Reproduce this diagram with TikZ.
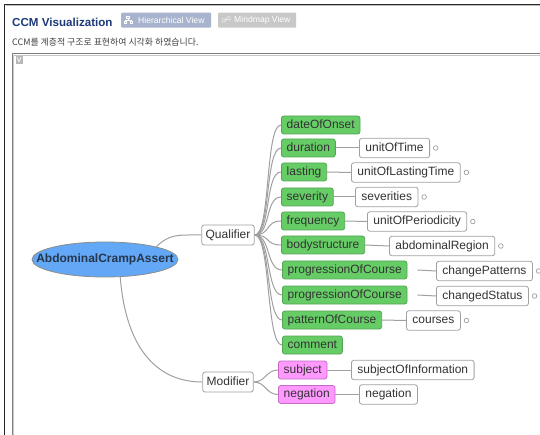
\documentclass[tikz,border=0pt]{standalone}
\usepackage{fontspec}
\setmainfont{Liberation Sans}
\newfontfamily\krfont{Noto Sans CJK KR}
\usetikzlibrary{shapes.geometric,calc}
\definecolor{navy}{HTML}{1E3A78}
\definecolor{grnf}{HTML}{66CC66}
\definecolor{grnb}{HTML}{55A555}
\definecolor{pnkf}{HTML}{FF99FF}
\definecolor{pnkb}{HTML}{C46BC4}
\definecolor{blf}{HTML}{62A8F6}
\definecolor{txt}{HTML}{333333}
\definecolor{etxt}{HTML}{26364A}
\definecolor{wire}{HTML}{A0A0A0}
\definecolor{btnA}{HTML}{A8B4CE}
\definecolor{btnB}{HTML}{C8C8C8}
\begin{document}
\begin{tikzpicture}[x=1pt,y=-1pt,
  base/.style={rounded corners=2.5pt, line width=0.8pt, minimum height=18pt,
    inner ysep=0pt, anchor=west, text height=9pt, text depth=2.6pt,
    font=\fontsize{12}{12}\selectfont, text=txt},
  gbox/.style={base, draw=grnb, fill=grnf, inner xsep=5.3pt},
  pbox/.style={base, draw=pnkb, fill=pnkf, inner xsep=5.3pt},
  wbox/.style={base, draw=wire, fill=white, inner xsep=6pt, minimum height=19.5pt},
  hbox/.style={wbox, anchor=center, inner xsep=4pt, minimum height=20pt},
  knob/.style={circle, draw=wire, fill=white, line width=0.7pt, inner sep=0pt, minimum size=4.6pt, anchor=west},
  wireline/.style={draw=wire, line width=1pt},
  btn/.style={rounded corners=1pt, anchor=north west, minimum height=15pt, inner sep=0pt, text=white, font=\fontsize{8.4}{8.4}\selectfont}
]
\useasboundingbox (0,0) rectangle (540,435);
\fill[white] (0,0) rectangle (540,435);
% outer frame
\draw[line width=1.3pt, color=black!85] (4.5,435) -- (4.5,4.5) -- (540,4.5);
\draw[line width=0.8pt, color=black!25] (5.5,5.7) -- (540,5.7);
% header
\node[anchor=west, font=\fontsize{11.6}{12}\bfseries\selectfont, text=navy, inner sep=0pt] (title) at (12,22) {CCM Visualization};
\node[btn, fill=btnA, minimum width=90pt] (b1) at (121,12.5) {};
\node[anchor=west, inner sep=0pt, text=white, font=\fontsize{8.6}{8.6}\selectfont] (b1t) at (138,20) {Hierarchical View};
\node[btn, fill=btnB, minimum width=78pt] (b2) at (218,12.5) {};
\node[anchor=west, inner sep=0pt, text=white, font=\fontsize{8.6}{8.6}\selectfont] (b2t) at (234,20) {Mindmap View};
% tiny icons
\draw[white, line width=0.5pt] (126.5,16.5) rectangle (129.5,18.5) (128,18.5) -- (128,20) (125,20) -- (131,20) (125,20) -- (125,21) (131,20) -- (131,21) (123.8,21) rectangle (126.2,23) (129.8,21) rectangle (132.2,23);
\draw[white!90!btnB, line width=0.5pt] (222,19) rectangle (225,22) (225,20.5) -- (227,19) (227,17) rectangle (230,20);
\node[anchor=west, inner sep=0pt, text=black!75, font=\krfont\fontsize{8.9}{8.9}\selectfont] (sub) at (12,42) {CCM를 계층적 구조로 표현하여 시각화 하였습니다.};
% inner panel
\draw[line width=1.2pt, color=black!50] (12.5,435) -- (12.5,53.8) -- (540,53.8);
\draw[line width=0.8pt, color=black!22] (13.8,435) -- (13.8,55.3) -- (540,55.3);
\fill[black!28] (15.5,56.5) rectangle (23,64);
\node[inner sep=0pt, text=white, font=\fontsize{7}{7}\bfseries\selectfont] (vic) at (19.3,60.3) {V};
% mindmap
\node[ellipse, draw=black!45, fill=blf, line width=0.8pt, minimum width=146pt, minimum height=35pt, inner sep=0pt] (e) at (105,259.5) {};
\node[inner sep=0pt, text=etxt, font=\fontsize{12}{12}\bfseries\selectfont] (et) at (e.center) {AbdominalCrampAssert};
\node[hbox] (q) at (228,235) {Qualifier};
\node[hbox] (m) at (228,382) {Modifier};
\node[gbox] (g1) at (281,125) {dateOfOnset};
\node[gbox] (g2) at (281,148) {duration};
\node[gbox] (g3) at (281,172) {lasting};
\node[gbox] (g4) at (281,197) {severity};
\node[gbox] (g5) at (281,221) {frequency};
\node[gbox] (g6) at (281,245) {bodystructure};
\node[gbox] (g7) at (282,270) {progressionOfCourse};
\node[gbox] (g8) at (282,295) {progressionOfCourse};
\node[gbox] (g9) at (282,320) {patternOfCourse};
\node[gbox] (g10) at (282,345) {comment};
\node[pbox] (p1) at (278,370) {subject};
\node[pbox] (p2) at (278,394.5) {negation};
\node[wbox] (w2) at (359,148) {unitOfTime};
\node[wbox] (w3) at (351,172.5) {unitOfLastingTime};
\node[wbox] (w4) at (355,197) {severities};
\node[wbox] (w5) at (367,221.5) {unitOfPeriodicity};
\node[wbox] (w6) at (389,246) {abdominalRegion};
\node[wbox] (w7) at (436,271) {changePatterns};
\node[wbox] (w8) at (436,296) {changedStatus};
\node[wbox] (w9) at (406,320.5) {courses};
\node[wbox] (w11) at (351,370) {subjectOfInformation};
\node[wbox] (w12) at (359,394.5) {negation};
\foreach \w in {w2,w3,w4,w5,w6,w7,w8,w9}
  \node[knob] (k\w) at ([xshift=3pt]\w.east) {};
% connectors
\draw[wireline] (e.14) .. controls (170,234) and (176,235) .. (q.west);
\draw[wireline] (e.-49) .. controls (126,350) and (158,382) .. (m.west);
\foreach \g in {g1,g2,g3,g4,g5,g6,g7,g8,g9,g10}
  \draw[wireline] (q.east) .. controls ($(q.east)+(16,0)$) and ($(\g.west)+(-16,0)$) .. (\g.west);
\foreach \p in {p1,p2}
  \draw[wireline] (m.east) .. controls ($(m.east)+(12,0)$) and ($(\p.west)+(-12,0)$) .. (\p.west);
\draw[wireline] (g2.east) -- (w2.west);
\draw[wireline] (g3.east) -- (w3.west);
\draw[wireline] (g4.east) -- (w4.west);
\draw[wireline] (g5.east) -- (w5.west);
\draw[wireline] (g6.east) -- (w6.west);
\draw[wireline] ([xshift=10pt]g7.east) -- (w7.west);
\draw[wireline] ([xshift=10pt]g8.east) -- (w8.west);
\draw[wireline] (g9.east) -- (w9.west);
\draw[wireline] (p1.east) -- (w11.west);
\draw[wireline] (p2.east) -- (w12.west);
\end{tikzpicture}
\end{document}
